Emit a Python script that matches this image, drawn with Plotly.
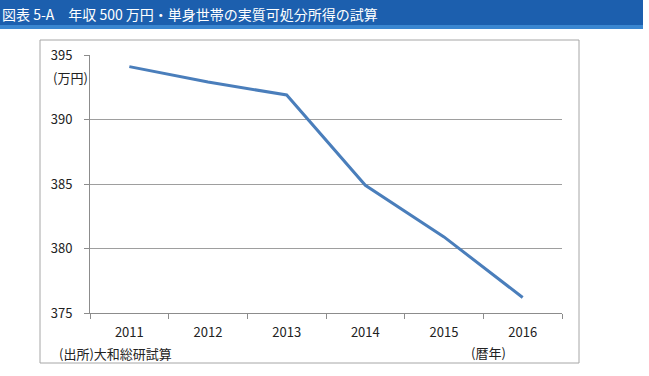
import plotly.graph_objects as go

years = ["2011", "2012", "2013", "2014", "2015", "2016"]
income = [394.1, 392.9, 391.9, 384.9, 380.9, 376.2]
y_ticks = [375, 380, 385, 390, 395]

W, H = 649, 376
L, R, T, B = 90, 87, 55, 63
pw, ph = W - L - R, H - T - B

def px(x):
    return (x - L) / pw

def py(y):
    return (H - B - y) / ph

FONT = "Noto Sans CJK JP"

fig = go.Figure()
fig.add_trace(go.Scatter(
    x=years, y=income, mode="lines",
    line=dict(color="#4A7EBB", width=3),
    hoverinfo="skip", showlegend=False,
))

fig.update_layout(
    width=W, height=H,
    margin=dict(l=L, r=R, t=T, b=B, pad=0),
    paper_bgcolor="white", plot_bgcolor="white",
    font=dict(family=FONT, size=13, color="#222222"),
    xaxis=dict(
        type="category", range=[-0.5, 5.5],
        showline=True, linecolor="#8C8C8C", linewidth=1,
        ticks="outside", tickson="boundaries", ticklen=5, tickcolor="#8C8C8C",
        showgrid=False, tickfont=dict(size=13, family=FONT),
        ticklabelstandoff=7, fixedrange=True,
    ),
    yaxis=dict(
        range=[375, 395], tickvals=y_ticks,
        showline=True, linecolor="#8C8C8C", linewidth=1,
        ticks="outside", ticklen=5, tickcolor="#8C8C8C",
        showgrid=True, gridcolor="#9E9E9E", gridwidth=1,
        zeroline=False, tickfont=dict(size=13, family=FONT),
        ticklabelstandoff=9, fixedrange=True,
    ),
    shapes=[
        dict(type="rect", xref="paper", yref="paper",
             x0=px(0), x1=px(643), y0=py(29), y1=py(0),
             fillcolor="#1C5FAE", line=dict(width=0), layer="below"),
        dict(type="rect", xref="paper", yref="paper",
             x0=px(0), x1=px(643), y0=py(29), y1=py(25),
             fillcolor="#3A86D0", line=dict(width=0), layer="below"),
        dict(type="rect", xref="paper", yref="paper",
             x0=px(40), x1=px(579), y0=py(363), y1=py(40),
             fillcolor="rgba(0,0,0,0)", line=dict(color="#A6A6A6", width=1), layer="below"),
    ],
    annotations=[
        dict(text="図表 5-A　年収 500 万円・単身世帯の実質可処分所得の試算",
             xref="paper", yref="paper", x=px(0), y=py(14),
             xanchor="left", yanchor="middle", showarrow=False,
             font=dict(family=FONT, size=14, color="white")),
        dict(text="(万円)", xref="paper", yref="paper", x=px(70), y=py(77),
             xanchor="center", yanchor="middle", showarrow=False,
             font=dict(family=FONT, size=13, color="#222222")),
        dict(text="(暦年)", xref="paper", yref="paper", x=px(488), y=py(352),
             xanchor="center", yanchor="middle", showarrow=False,
             font=dict(family=FONT, size=13, color="#222222")),
        dict(text="(出所)大和総研試算", xref="paper", yref="paper", x=px(57), y=py(353),
             xanchor="left", yanchor="middle", showarrow=False,
             font=dict(family=FONT, size=13, color="#222222")),
    ],
)

fig.write_html("out.html")
